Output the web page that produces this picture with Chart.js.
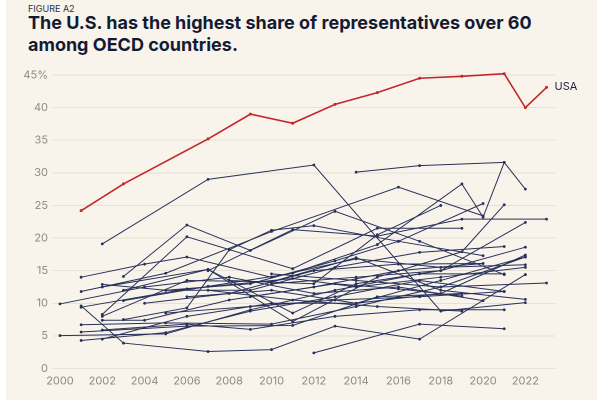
<!DOCTYPE html>
<html>
<head>
<meta charset="utf-8">
<script src="https://cdn.jsdelivr.net/npm/chart.js@4.4.1/dist/chart.umd.min.js"></script>
<style>
  html, body { margin: 0; padding: 0; background: #fff; }
  body { width: 600px; height: 400px; position: relative; overflow: hidden; font-family: Inter, "Noto Sans", sans-serif; }
  #panel { position: absolute; left: 6px; top: 0; width: 591px; height: 400px; background: #f8f4ec; }
  #fig { position: absolute; left: 28px; top: 3px; font-size: 9px; line-height: 11px; color: #2a2f45; }
  #title { position: absolute; left: 28px; top: 12px; width: 520px; font-size: 18px; line-height: 22px; font-weight: 700; color: #141a33; }
  #wrap { position: absolute; left: 0; top: 0; width: 600px; height: 400px; }
  #usaLabel { position: absolute; font-size: 11px; color: #1d2238; }
</style>
</head>
<body>
<div id="panel"></div>
<div id="fig">FIGURE A2</div>
<div id="title">The U.S. has the highest share of representatives over 60<br>among OECD countries.</div>
<div id="wrap"><canvas id="grafico"></canvas></div>
<span id="usaLabel">USA</span>
<script>
// eixo
const xTicks = [2000, 2002, 2004, 2006, 2008, 2010, 2012, 2014, 2016, 2018, 2020, 2022];
const yTicks = [0, 5, 10, 15, 20, 25, 30, 35, 40, 45];

// EUA
const usaYears = [2001, 2003, 2007, 2009, 2011, 2013, 2015, 2017, 2019, 2021, 2022, 2023];
const usaShare = [24.2, 28.3, 35.2, 39.0, 37.6, 40.5, 42.3, 44.5, 44.8, 45.2, 40.0, 43.1];

// demais paises da OCDE: [ano, %]
const line01 = [[2002, 19.1], [2007, 29.0], [2012, 31.2], [2018, 8.8], [2022, 10.1]];
const line02 = [[2001, 9.6], [2003, 3.9], [2007, 2.6], [2010, 2.9], [2013, 6.5], [2017, 4.5], [2022, 14.4]];
const line03 = [[2012, 2.4], [2017, 6.8], [2021, 6.1]];
const line04 = [[2014, 30.1], [2017, 31.1], [2021, 31.6], [2022, 27.5]];
const line05 = [[2003, 10.4], [2007, 12.6], [2011, 14.6], [2015, 19.0], [2019, 28.3], [2020, 23.2], [2021, 31.6]];
const line06 = [[2001, 11.8], [2005, 14.6], [2010, 21.0], [2016, 27.8], [2020, 23.4]];
const line07 = [[2003, 14.1], [2006, 22.0], [2009, 18.1], [2013, 24.1], [2017, 19.5], [2021, 14.4]];
const line08 = [[2002, 8.3], [2006, 20.2], [2011, 15.3], [2015, 21.5], [2019, 21.5]];
const line09 = [[2001, 14.0], [2004, 16.0], [2006, 17.1], [2010, 14.0], [2014, 16.8], [2018, 15.5], [2022, 15.9]];
const line10 = [[2002, 12.5], [2007, 15.2], [2011, 8.5], [2014, 13.0], [2018, 15.0], [2022, 18.6]];
const line11 = [[2003, 12.0], [2007, 15.2], [2011, 7.2], [2015, 14.0], [2019, 17.9], [2021, 25.1]];
const line12 = [[2002, 12.9], [2005, 12.0], [2009, 12.0], [2013, 15.5], [2017, 17.8], [2021, 18.7]];
const line13 = [[2001, 9.4], [2006, 12.2], [2011, 13.8], [2014, 12.5], [2018, 14.0], [2022, 15.5]];
const line14 = [[2000, 9.9], [2004, 12.5], [2008, 14.0], [2012, 11.5], [2016, 12.5], [2020, 10.4]];
const line15 = [[2002, 8.0], [2006, 13.5], [2010, 13.3], [2014, 17.0], [2018, 12.0], [2022, 10.6]];
const line16 = [[2003, 7.5], [2006, 9.3], [2008, 18.2], [2010, 21.2], [2012, 21.9], [2016, 19.5], [2020, 17.3]];
const line17 = [[2002, 7.4], [2004, 7.4], [2008, 10.5], [2012, 12.5], [2016, 15.0], [2020, 16.1]];
const line18 = [[2001, 6.7], [2005, 7.0], [2010, 6.8], [2014, 9.5], [2018, 12.5], [2022, 17.1]];
const line19 = [[2001, 5.6], [2006, 6.5], [2011, 6.6], [2015, 11.0], [2019, 11.5]];
const line20 = [[2001, 4.3], [2005, 5.5], [2009, 8.8], [2013, 11.0], [2017, 13.5], [2021, 11.8]];
const line21 = [[2000, 5.05], [2005, 5.3], [2009, 9.0], [2013, 12.0], [2017, 14.5], [2021, 14.5]];
const line22 = [[2002, 5.9], [2006, 6.8], [2009, 6.0], [2013, 8.0], [2017, 9.0], [2021, 9.0]];
const line23 = [[2002, 4.5], [2006, 8.0], [2010, 10.0], [2014, 10.0], [2018, 11.5], [2022, 17.4]];
const line24 = [[2005, 12.0], [2009, 13.0], [2013, 16.5], [2016, 19.5], [2020, 25.3]];
const line25 = [[2008, 13.5], [2012, 13.0], [2015, 20.5], [2018, 25.0]];
const line26 = [[2007, 15.0], [2011, 21.3], [2015, 20.3], [2019, 22.9], [2023, 22.9]];
const line27 = [[2010, 13.0], [2014, 14.0], [2018, 15.0], [2022, 22.4]];
const line28 = [[2009, 11.0], [2013, 13.0], [2016, 12.2], [2019, 11.1]];
const line29 = [[2007, 12.0], [2011, 10.5], [2015, 9.5], [2019, 8.8]];
const line30 = [[2006, 11.0], [2010, 12.0], [2014, 10.0], [2018, 13.5], [2022, 17.1]];
const line31 = [[2010, 14.5], [2014, 13.5], [2018, 12.5], [2023, 13.1]];
const line32 = [[2005, 8.5], [2009, 9.5], [2013, 10.5], [2017, 11.0], [2021, 11.8]];
const line33 = [[2004, 10.0], [2008, 11.5], [2012, 15.0], [2016, 16.0], [2020, 16.1]];

const outrosPaises = [line01, line02, line03, line04, line05, line06, line07, line08, line09, line10,
    line11, line12, line13, line14, line15, line16, line17, line18, line19, line20, line21, line22,
    line23, line24, line25, line26, line27, line28, line29, line30, line31, line32, line33];

const AZUL = '#283059';
const VERMELHO = '#c3262b';

const montarGrafico = () => {
    const ctx = document.getElementById('grafico');

    const datasets = [{
        label: 'USA',
        data: usaYears.map((ano, i) => ({x: ano, y: usaShare[i]})),
        borderColor: VERMELHO,
        backgroundColor: VERMELHO,
        borderWidth: 1.6,
        pointRadius: 1.5,
        pointBorderWidth: 0,
    }];
    outrosPaises.forEach((pais, i) => {
        datasets.push({
            label: 'pais' + (i + 1),
            data: pais.map(([x, y]) => ({x, y})),
            borderColor: AZUL,
            backgroundColor: AZUL,
            borderWidth: 1,
            pointRadius: 1.4,
            pointBorderWidth: 0,
        });
    });

    const posicionarRotulo = {
        id: 'rotuloUsa',
        afterRender(chart) {
            const meta = chart.getDatasetMeta(0);
            const ultimo = meta.data[meta.data.length - 1];
            const el = document.getElementById('usaLabel');
            el.style.left = (ultimo.x + 8) + 'px';
            el.style.top = (ultimo.y - 8) + 'px';
        }
    };

    new Chart(ctx, {
        type: 'line',
        data: {datasets},
        options: {
            responsive: false,
            animation: false,
            devicePixelRatio: 2,
            clip: false,
            layout: {padding: {top: 75, right: 45, left: 0, bottom: 0}},
            plugins: {legend: {display: false}, tooltip: {enabled: false}},
            scales: {
                x: {
                    type: 'linear',
                    min: 1999.67,
                    max: 2023.4,
                    grid: {display: false, drawTicks: false},
                    border: {display: false},
                    afterBuildTicks: (axis) => { axis.ticks = xTicks.map(v => ({value: v})); },
                    afterFit: (axis) => { axis.height = 31.5; },
                    ticks: {
                        color: '#8d8a85',
                        font: {family: 'Inter', size: 11},
                        padding: 6,
                        maxRotation: 0,
                        autoSkip: false,
                        callback: (v) => String(v),
                    },
                },
                y: {
                    min: 0,
                    max: 45,
                    grid: {color: '#e6e0d5', drawTicks: false, lineWidth: 1},
                    border: {display: false},
                    afterBuildTicks: (axis) => { axis.ticks = yTicks.map(v => ({value: v})); },
                    afterFit: (axis) => { axis.width = 53; },
                    ticks: {
                        color: '#8d8a85',
                        font: {family: 'Inter', size: 11},
                        padding: 5,
                        callback: (v) => v === 45 ? '45%' : String(v),
                    },
                },
            },
        },
        plugins: [posicionarRotulo],
    });
};

const main = () => {
    const ctx = document.getElementById('grafico');
    ctx.width = 600;
    ctx.height = 400;
    ctx.style.width = '600px';
    ctx.style.height = '400px';
    montarGrafico();
};
main();
</script>
</body>
</html>
